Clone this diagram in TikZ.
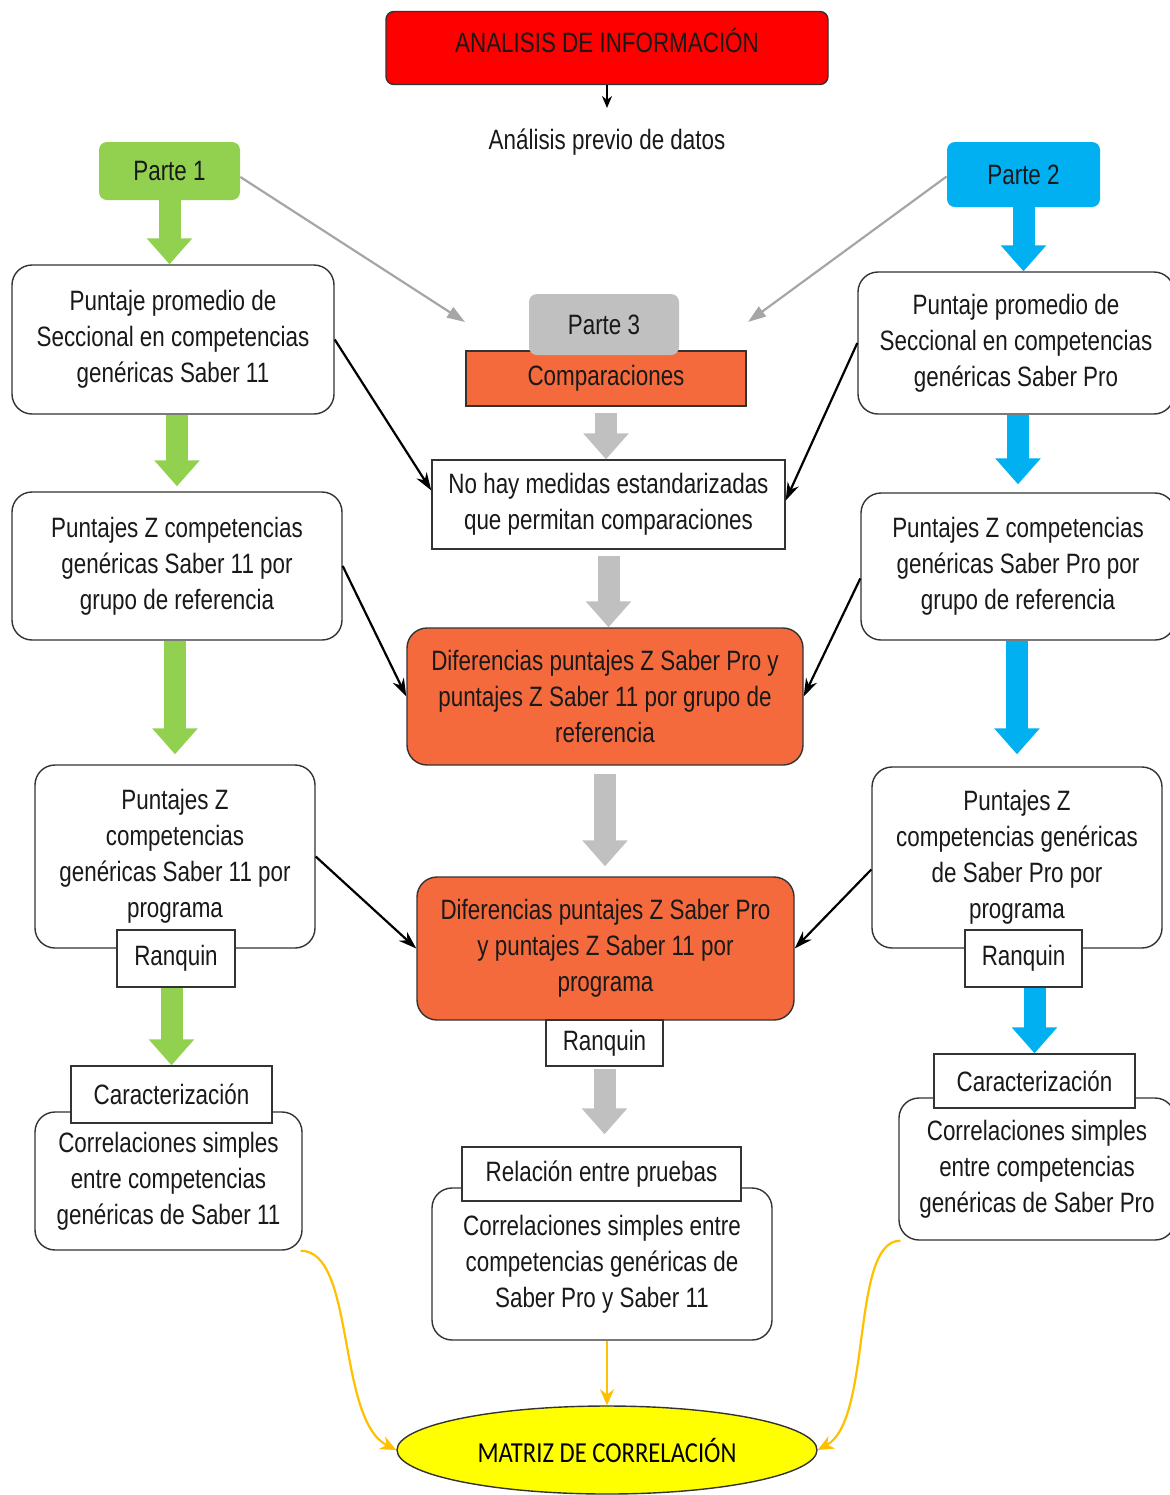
\documentclass[tikz,border=0pt]{standalone}
\usepackage{fontspec}
\setmainfont{Liberation Sans}[FakeStretch=0.8]
\newfontfamily\matrizfont{Carlito}[FakeStretch=0.85]
\usetikzlibrary{arrows.meta,shapes.geometric}
\definecolor{rojo}{HTML}{FF0000}
\definecolor{verde}{HTML}{92D050}
\definecolor{azul}{HTML}{00B0F0}
\definecolor{gris}{HTML}{C0C0C0}
\definecolor{grisflecha}{HTML}{A6A6A6}
\definecolor{naranja}{HTML}{F46A3C}
\definecolor{amarillo}{HTML}{FFFF00}
\definecolor{oro}{HTML}{FFC000}
\begin{document}
\begin{tikzpicture}[x=0.5pt,y=-0.5pt,
    txt/.style={font=\fontsize{14}{18}\selectfont,align=center,inner sep=0pt,text=black!90},
    rbox/.style={txt,draw=black!80,line width=0.7pt,rounded corners=10pt,fill=white},
    sbox/.style={txt,draw=black!80,line width=0.7pt,fill=white},
    parte/.style={txt,rounded corners=4pt},
    block/.style={line width=11pt,-{Triangle[length=13pt,width=22pt]}},
    link/.style={line width=1.1pt,-{Stealth[length=9pt,width=6pt]}},
    hint/.style={draw=grisflecha,line width=1.1pt,-{Triangle[length=9pt,width=6pt]}},
    gold/.style={draw=oro,line width=1.1pt,-{Stealth[length=8pt,width=7pt]}}]
  \useasboundingbox (0,0) rectangle (1170,1495);

  % top
  \node[txt,draw=black!80,line width=0.7pt,fill=rojo,rounded corners=4pt,
        minimum width=221pt,minimum height=36.5pt] at (607,48) (titulo)
        {\raisebox{8pt}{ANALISIS DE INFORMACIÓN}};
  \coordinate (previo) at (607,108);
  \node[txt] at (607,142) (datos) {Análisis previo de datos};
  \draw[-{Stealth[length=6pt,width=5pt]},line width=1pt] (titulo) -- (previo);

  \node[parte,fill=verde,minimum width=70.5pt,minimum height=29pt] at (169.5,171) (p1) {Parte 1};
  \node[parte,fill=azul,minimum width=76.5pt,minimum height=32.5pt] at (1023.5,174.5) (p2) {Parte 2};

  % left column
  \node[rbox,minimum width=161pt,minimum height=74.5pt] at (173,339.5) (L1)
    {Puntaje promedio de\\Seccional en competencias\\genéricas Saber 11};
  \node[rbox,minimum width=165pt,minimum height=74pt] at (177,566) (L2)
    {Puntajes Z competencias\\genéricas Saber 11 por\\grupo de referencia};
  \node[rbox,minimum width=140pt,minimum height=91.5pt] at (175,856.5) (L3)
    {Puntajes Z\\competencias\\genéricas Saber 11 por\\programa};
  \node[sbox,minimum width=59pt,minimum height=28.5pt] at (176,958.5) (rankL) {Ranquin};
  \node[rbox,minimum width=133.5pt,minimum height=69pt] at (168.5,1181) (L4)
    {Correlaciones simples\\entre competencias\\genéricas de Saber 11};
  \node[sbox,minimum width=100.5pt,minimum height=28.5pt] at (171.5,1094.5) (caracL) {Caracterización};

  % right column
  \node[rbox,minimum width=158pt,minimum height=71pt] at (1016,343) (R1)
    {Puntaje promedio de\\Seccional en competencias\\genéricas Saber Pro};
  \node[rbox,minimum width=157pt,minimum height=73.5pt] at (1018,566.5) (R2)
    {Puntajes Z competencias\\genéricas Saber Pro por\\grupo de referencia};
  \node[rbox,minimum width=145pt,minimum height=90.5pt] at (1017,857.5) (R3)
    {Puntajes Z\\competencias genéricas\\de Saber Pro por\\programa};
  \node[sbox,minimum width=58.5pt,minimum height=28.5pt] at (1023.5,958.5) (rankR) {Ranquin};
  \node[rbox,minimum width=138pt,minimum height=71pt] at (1037,1169) (R4)
    {Correlaciones simples\\entre competencias\\genéricas de Saber Pro};
  \node[sbox,minimum width=100.5pt,minimum height=27pt] at (1034.5,1081) (caracR) {Caracterización};

  % center column
  \node[sbox,draw=black!80,fill=naranja,minimum width=140pt,minimum height=27.5pt] at (606,378.5) (comp) {Comparaciones};
  \node[parte,fill=gris,minimum width=75pt,minimum height=30.5pt] at (604,324.5) (p3) {Parte 3};
  \node[sbox,minimum width=176.5pt,minimum height=44.5pt] at (608.5,504.5) (nohay)
    {No hay medidas estandarizadas\\que permitan comparaciones};
  \node[rbox,fill=naranja,minimum width=198pt,minimum height=68.5pt] at (605,696.5) (D1)
    {Diferencias puntajes Z Saber Pro y\\puntajes Z Saber 11 por grupo de\\referencia};
  \node[rbox,fill=naranja,minimum width=188.5pt,minimum height=71.5pt] at (605.5,948.5) (D2)
    {Diferencias puntajes Z Saber Pro\\y puntajes Z Saber 11 por\\programa};
  \node[sbox,minimum width=58.5pt,minimum height=23pt] at (604.5,1043) (rankC) {\raisebox{1pt}{Ranquin}};
  \node[rbox,minimum width=170pt,minimum height=76pt] at (602,1264) (C4)
    {Correlaciones simples entre\\competencias genéricas de\\Saber Pro y Saber 11};
  \node[sbox,minimum width=139.5pt,minimum height=27pt] at (601.5,1174) (relac) {Relación entre pruebas};
  \node[ellipse,draw=black!80,line width=0.7pt,fill=amarillo,inner sep=0pt,
        minimum width=210pt,minimum height=44pt,font=\matrizfont\fontsize{14.5}{18}\selectfont]
        at (607,1450) (matriz) {MATRIZ DE CORRELACIÓN};

  % part links
  \coordinate (p3izq) at (465,322);
  \coordinate (p3der) at (748,322);
  \draw[hint] ([yshift=-3pt]p1.east) -- (p3izq);
  \draw[hint] ([yshift=-1pt]p2.west) -- (p3der);

  % block arrows
  \draw[block,draw=verde] (p1.south) -- (p1.south |- L1.north);
  \draw[block,draw=verde,shorten >=2.5pt] (L2.north |- L1.south) -- (L2.north);
  \draw[block,draw=verde,shorten >=5pt] (L3.north |- L2.south) -- (L3.north);
  \draw[block,draw=verde] (caracL.north |- rankL.south) -- (caracL.north);
  \draw[block,draw=azul] (p2.south) -- (p2.south |- R1.north);
  \draw[block,draw=azul,shorten >=4pt] (R2.north |- R1.south) -- (R2.north);
  \draw[block,draw=azul,shorten >=6pt] (R3.north |- R2.south) -- (R3.north);
  \draw[block,draw=azul] (caracR.north |- rankR.south) -- (caracR.north);
  \draw[block,draw=gris,shorten <=3pt] (comp.south) -- (comp.south |- nohay.north);
  \draw[block,draw=gris,shorten <=3pt] (nohay.south) -- (nohay.south |- D1.north);
  \draw[block,draw=gris,shorten <=4pt,shorten >=5pt] (D1.south) -- (D1.south |- D2.north);
  \draw[block,draw=gris,shorten <=1pt,shorten >=6pt] (rankC.south) -- (rankC.south |- relac.north);

  % black links
  \draw[link] (L1.east) -- ([yshift=7pt]nohay.west);
  \draw[link] (R1.west) -- ([yshift=2pt]nohay.east);
  \draw[link] (L2.east) -- (D1.west);
  \draw[link] ([yshift=-6pt]R2.west) -- (D1.east);
  \draw[link] (L3.east) -- (D2.west);
  \draw[link] ([yshift=-6pt]R3.west) -- (D2.east);

  % to the matrix
  \draw[gold] (matriz.north |- C4.south) -- (matriz.north);
  \draw[gold] ([xshift=-1pt]L4.south east) .. controls +(55,0) and +(-60,-30) .. (matriz.west);
  \draw[gold] ([xshift=1pt]R4.south west) .. controls +(-50,0) and +(55,-30) .. (matriz.east);
\end{tikzpicture}
\end{document}
